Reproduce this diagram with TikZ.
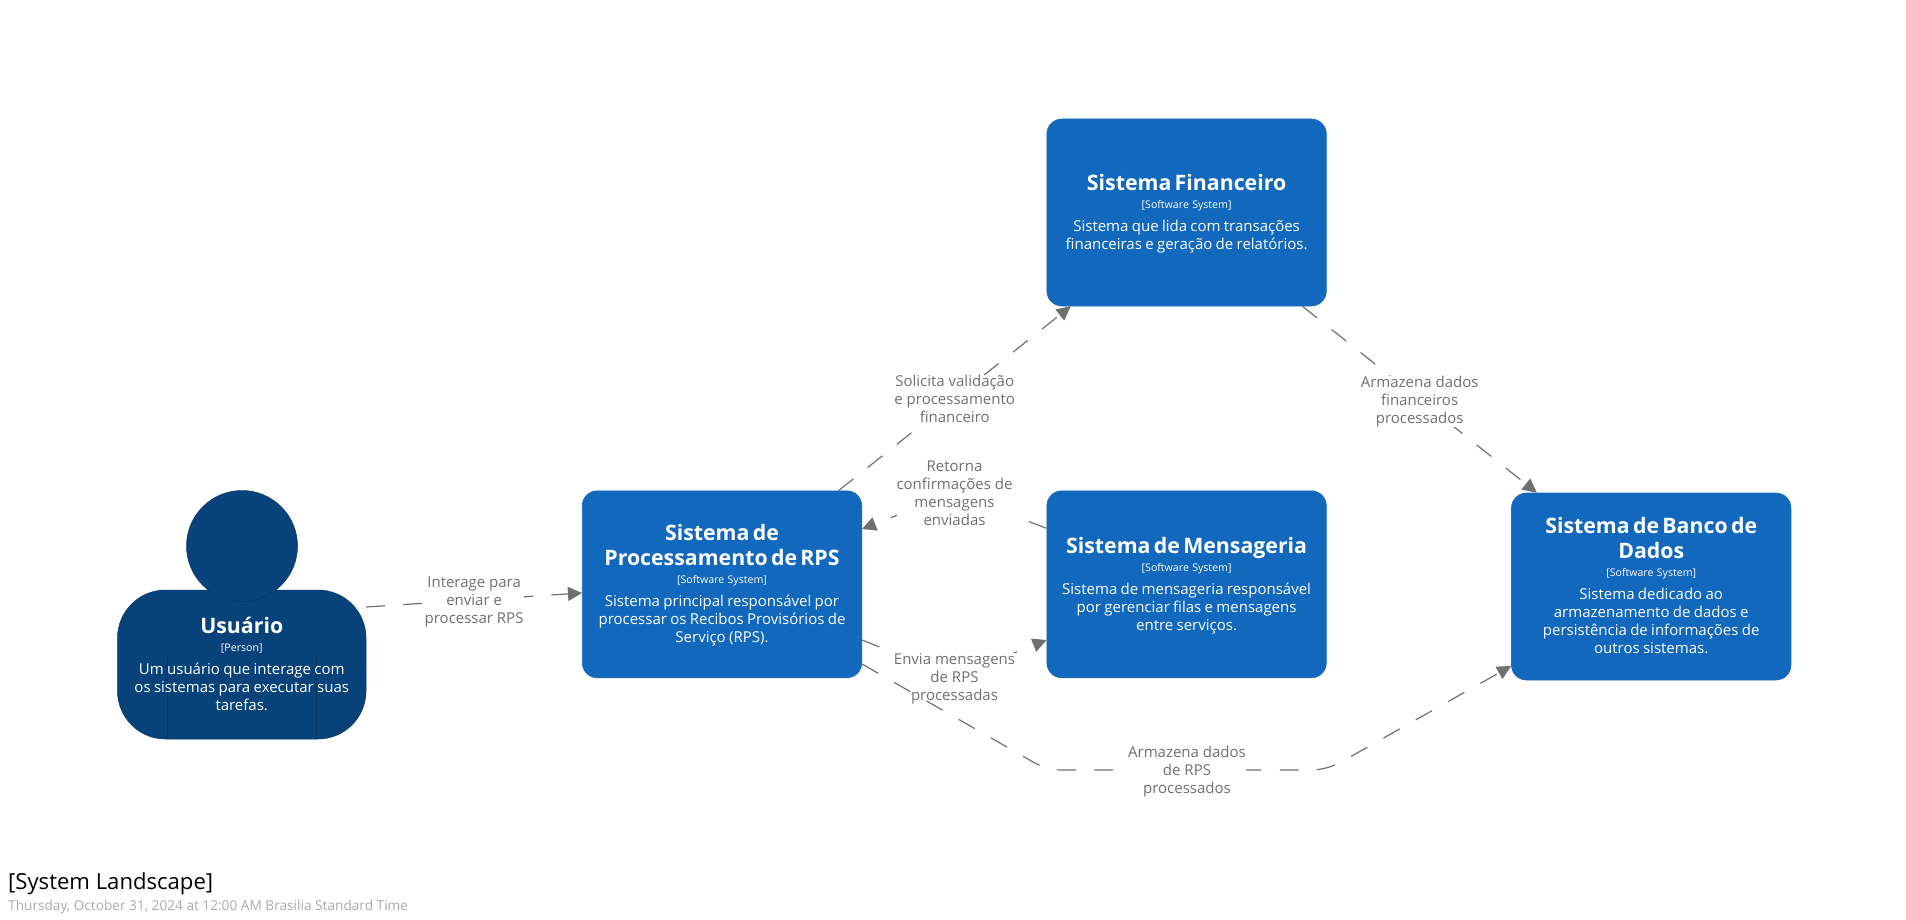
\documentclass[tikz,border=0pt]{standalone}
\usepackage{fontspec}
\setmainfont{Open Sans}[BoldFeatures={WordSpace=1.4}]
\usetikzlibrary{arrows.meta}
\setlength{\parindent}{0pt}

\definecolor{sysblue}{HTML}{1168BD}
\definecolor{sysline}{HTML}{1A6CBE}
\definecolor{persblue}{HTML}{08427B}
\definecolor{persline}{HTML}{063763}
\definecolor{relgray}{HTML}{707070}
\definecolor{stampgray}{HTML}{AAAAAA}

\newcommand{\boxname}{\fontsize{21.3}{25}\selectfont\bfseries\rule{0pt}{20pt}}
\newcommand{\boxtype}{\fontsize{10.6}{18.1}\selectfont\mdseries}
\newcommand{\boxdesc}{\vspace{4.8pt}\fontsize{15}{18}\selectfont\mdseries}

\tikzset{
    system/.style={rectangle, rounded corners=15pt, fill=sysblue, draw=sysline, line width=.6pt,
        minimum width=279.5pt, minimum height=187pt, inner sep=0pt, text=white, align=center, text width=272pt},
    person/.style={rectangle, rounded corners=48pt, fill=persblue, draw=persline, line width=.5pt,
        minimum width=248.5pt, minimum height=149pt, inner sep=0pt, text=white, align=center, text width=244pt},
    head/.style={circle, fill=persblue, draw=persline, line width=.5pt, minimum size=111pt, inner sep=0pt},
    rel/.style={draw=relgray, line width=1.2pt, dash pattern=on 18.7pt off 18.4pt,
        -{Triangle[length=14pt,width=14pt,fill=relgray]}},
    rellabel/.style={fill=white, text=relgray, inner sep=0pt, align=center, font=\fontsize{15}{18}\selectfont},
}

\begin{document}
\begin{tikzpicture}[x=1pt,y=-1pt]
    \useasboundingbox (0,0) rectangle (1906,920);

    % people and systems
    \node[person, path picture={
        \draw[persline, line width=.5pt] ([xshift=50pt]path picture bounding box.south west) -- ++(0,-83);
        \draw[persline, line width=.5pt] ([xshift=199pt]path picture bounding box.south west) -- ++(0,-83);
    }] (usuario) at (241.75,664.5) {\boxname Usuário\par \boxtype [Person]\par
        \boxdesc Um usuário que interage com\par os sistemas para executar suas\par tarefas.\strut\par};
    \node[head] (cabeca) at (242,546) {};

    \node[system] (rps) at (722,584.3) {\boxname Sistema de\par Processamento de RPS\par \boxtype [Software System]\par
        \boxdesc Sistema principal responsável por\par processar os Recibos Provisórios de\par Serviço (RPS).\strut\par};
    \node[system] (financeiro) at (1186.6,212.5) {\boxname Sistema Financeiro\par \boxtype [Software System]\par
        \boxdesc Sistema que lida com transações\par financeiras e geração de relatórios.\strut\par};
    \node[system] (mensageria) at (1186.6,584.3) {\boxname Sistema de Mensageria\par \boxtype [Software System]\par
        \boxdesc Sistema de mensageria responsável\par por gerenciar filas e mensagens\par entre serviços.\strut\par};
    \node[system] (banco) at (1651.2,586.5) {\boxname Sistema de Banco de\par Dados\par \boxtype [Software System]\par
        \boxdesc Sistema dedicado ao\par armazenamento de dados e\par persistência de informações de\par outros sistemas.\strut\par};

    % relationships
    \draw[rel] ([yshift=57.5pt]usuario.east) -- node[rellabel, yshift=-2pt] (interage) {Interage para\\enviar e\\processar RPS} ([yshift=-8.7pt]rps.west);
    \draw[rel] ([xshift=116.7pt]rps.north) -- node[rellabel] (solicita) {Solicita validação\\e processamento\\financeiro} ([xshift=-115.9pt]financeiro.south);
    \draw[rel] ([xshift=115.9pt]financeiro.south) -- node[rellabel, yshift=-2pt] (armfin) {Armazena dados\\financeiros\\processados} ([xshift=-114.4pt]banco.north);

    \coordinate (viaretorna) at (954.5,493);
    \coordinate (viaenvia) at (954.5,677);
    \coordinate (viaa) at (1047,770);
    \coordinate (viab) at (1327,770);
    \draw[rel] ([yshift=56pt]mensageria.west) -- (viaretorna) node[rellabel] (retorna) {Retorna\\confirmações de\\mensagens\\enviadas} -- ([yshift=55.3pt]rps.east);
    \draw[rel] ([yshift=-55.7pt]rps.east) -- (viaenvia) node[rellabel, yshift=-1.5pt] (envia) {Envia mensagens\\de RPS\\processadas} -- ([yshift=-55.7pt]mensageria.west);
    \draw[rel, rounded corners=15pt] ([yshift=-79.7pt]rps.east) -- (viaa) -- node[rellabel, yshift=-2pt] (armrps) {Armazena dados\\de RPS\\processados} (viab) -- ([yshift=-79.5pt]banco.west);

    % title
    \node[anchor=west, inner sep=0pt, font=\fontsize{22.1}{26}\selectfont] (titulo) at (8,884) {[System Landscape]};
    \node[anchor=west, inner sep=0pt, text=stampgray, font=\fontsize{13.66}{17}\selectfont] (data) at (8,907) {Thursday, October 31, 2024 at 12:00 AM Brasilia Standard Time};
\end{tikzpicture}
\end{document}
